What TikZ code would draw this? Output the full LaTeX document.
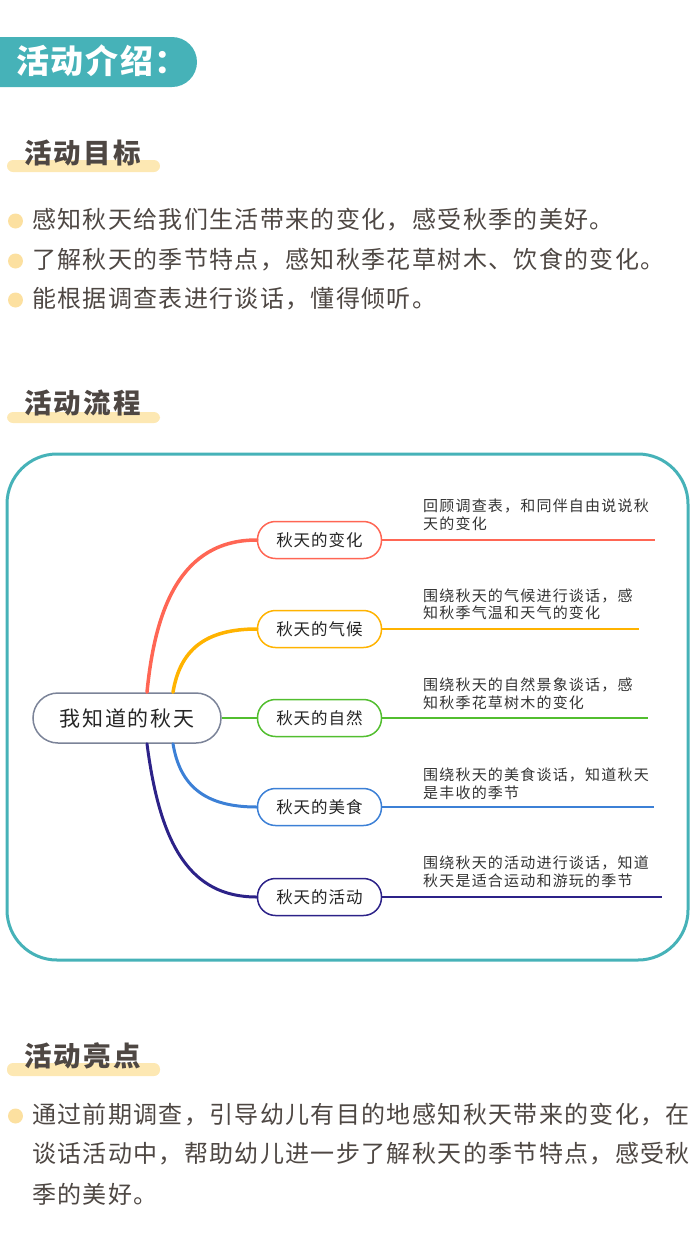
\documentclass[tikz,border=0pt]{standalone}
\usepackage{fontspec}
\setmainfont{Noto Sans CJK SC}
\newfontfamily\bodyf[LetterSpace=5.6]{Noto Sans CJK SC}
\newfontfamily\headf[LetterSpace=8]{Noto Sans CJK SC}
\newfontfamily\bannerf[LetterSpace=5]{Noto Sans CJK SC}
\newfontfamily\descf[LetterSpace=8]{Noto Sans CJK SC}
\newfontfamily\branchf[LetterSpace=6]{Noto Sans CJK SC}
\newfontfamily\centf[LetterSpace=8]{Noto Sans CJK SC}
\definecolor{teal}{HTML}{46B2B8}
\definecolor{textdark}{HTML}{4E4743}
\definecolor{barcol}{HTML}{FDE8B3}
\definecolor{dotcol}{HTML}{FCE0A0}
\definecolor{cred}{HTML}{FF6654}
\definecolor{corange}{HTML}{FFB300}
\definecolor{cgreen}{HTML}{52BE2F}
\definecolor{cblue}{HTML}{3C80D6}
\definecolor{cindigo}{HTML}{2C2288}
\definecolor{cgray}{HTML}{7B8398}
\definecolor{desccol}{HTML}{333333}
\tikzset{
  txt/.style={inner sep=0pt, anchor=west},
  body/.style={txt, text=textdark, font=\bodyf\fontsize{24}{28}\selectfont},
  head/.style={txt, text=textdark, font=\headf\bfseries\fontsize{27.5}{32}\selectfont},
  desc/.style={txt, text=desccol, font=\descf\fontsize{15}{17}\selectfont},
  branch/.style={draw, line width=1.5pt, rounded corners=18pt, minimum width=124pt,
    minimum height=37pt, inner sep=0pt, fill=white, text=black!85,
    font=\branchf\fontsize{16.5}{20}\selectfont},
  dot/.style={circle, fill=dotcol, minimum size=15pt, inner sep=0pt},
  bar/.style={fill=barcol, rounded corners=6pt},
  curve/.style={line width=3.5pt, line cap=round},
  leaf/.style={line width=2pt},
}
\begin{document}
\begin{tikzpicture}[x=1pt,y=-1pt]
\useasboundingbox (0,0) rectangle (700,1248);
% banner
\fill[teal, rounded corners=25pt] (-40,37) rectangle (197,87);
\node[txt, text=white, font=\bannerf\bfseries\fontsize{33}{38}\selectfont] (banner) at (16,61) {活动介绍：};
% section 1
\fill[bar] (7,160) rectangle (160,172);
\node[head] (h1) at (24,153) {活动目标};
\node[dot] (d1) at (15.5,221) {};
\node[body] (t1) at (32,220) {感知秋天给我们生活带来的变化，感受秋季的美好。};
\node[dot] (d2) at (15.5,261) {};
\node[body] (t2) at (32,260) {了解秋天的季节特点，感知秋季花草树木、饮食的变化。};
\node[dot] (d3) at (15.5,300) {};
\node[body] (t3) at (32,299) {能根据调查表进行谈话，懂得倾听。};
% section 2
\fill[bar] (7,412) rectangle (160,423);
\node[head] (h2) at (24,403) {活动流程};
\draw[teal, line width=3pt, rounded corners=50pt] (7,454) rectangle (688,960);
% mind map
\node[draw=cgray, line width=1.5pt, rounded corners=25pt, minimum width=188pt,
  minimum height=50pt, inner sep=0pt, text=black!85,
  font=\centf\fontsize{21}{25}\selectfont] (c) at (127,718) {我知道的秋天};
\node[branch, draw=cred] (b1) at (319.5,540) {秋天的变化};
\node[branch, draw=corange] (b2) at (319.5,629) {秋天的气候};
\node[branch, draw=cgreen] (b3) at (319.5,718) {秋天的自然};
\node[branch, draw=cblue] (b4) at (319.5,807) {秋天的美食};
\node[branch, draw=cindigo] (b5) at (319.5,897) {秋天的活动};
\draw[curve, cred] ([xshift=20pt]c.north) .. controls (155,610) and (180,540) .. (b1.west);
\draw[curve, corange] ([xshift=46pt]c.north) .. controls (180,650) and (205,629) .. (b2.west);
\draw[leaf, cgreen] (c.east) -- (b3.west);
\draw[curve, cblue, line width=3pt] ([xshift=46pt]c.south) .. controls (180,786) and (205,807) .. (b4.west);
\draw[curve, cindigo, line width=3pt] ([xshift=20pt]c.south) .. controls (160,845) and (190,897) .. (b5.west);
\coordinate (e1) at (655,540);
\coordinate (e2) at (639,629);
\coordinate (e3) at (648,718);
\coordinate (e4) at (654,807);
\coordinate (e5) at (662,897);
\draw[leaf, cred] (b1.east) -- (e1);
\draw[leaf, corange] (b2.east) -- (e2);
\draw[leaf, cgreen] (b3.east) -- (e3);
\draw[leaf, cblue] (b4.east) -- (e4);
\draw[leaf, cindigo] (b5.east) -- (e5);
\node[desc] (l1a) at (423,506) {回顾调查表，和同伴自由说说秋};
\node[desc] (l1b) at (423,523.5) {天的变化};
\node[desc] (l2a) at (423,595.5) {围绕秋天的气候进行谈话，感};
\node[desc] (l2b) at (423,613) {知秋季气温和天气的变化};
\node[desc] (l3a) at (423,685) {围绕秋天的自然景象谈话，感};
\node[desc] (l3b) at (423,702.5) {知秋季花草树木的变化};
\node[desc] (l4a) at (423,775) {围绕秋天的美食谈话，知道秋天};
\node[desc] (l4b) at (423,792.5) {是丰收的季节};
\node[desc] (l5a) at (423,863) {围绕秋天的活动进行谈话，知道};
\node[desc] (l5b) at (423,880.5) {秋天是适合运动和游玩的季节};
% section 3
\fill[bar] (7,1063) rectangle (160,1076);
\node[head] (h3) at (24,1056) {活动亮点};
\node[dot] (d4) at (15.5,1116) {};
\node[body] (t4) at (32,1115) {通过前期调查，引导幼儿有目的地感知秋天带来的变化，在};
\node[body] (t5) at (32,1154) {谈话活动中，帮助幼儿进一步了解秋天的季节特点，感受秋};
\node[body] (t6) at (32,1194) {季的美好。};
\end{tikzpicture}
\end{document}
